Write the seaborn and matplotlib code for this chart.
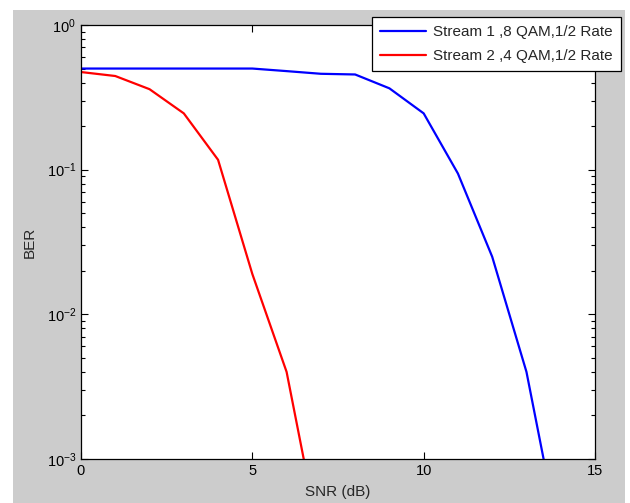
import numpy as np
import pandas as pd
import matplotlib
matplotlib.use("Agg")
import matplotlib.pyplot as plt
import seaborn as sns
from matplotlib.patches import Rectangle

# data (BER vs SNR, log scale)
snr_s1 = [0, 1, 2, 3, 4, 5, 6, 7, 8, 9, 10, 11, 12, 13, 14]
ber_s1 = [0.5, 0.5, 0.5, 0.5, 0.5, 0.5, 0.48, 0.46, 0.455, 0.365, 0.245, 0.094, 0.025, 0.004, 0.00025]
snr_s2 = [0, 1, 2, 3, 4, 5, 6, 7]
ber_s2 = [0.473, 0.444, 0.36, 0.245, 0.117, 0.019, 0.004, 0.00025]
labels = ['Stream 1 ,8 QAM,1/2 Rate', 'Stream 2 ,4 QAM,1/2 Rate']

df = pd.concat([
    pd.DataFrame({'snr': snr_s1, 'ber': ber_s1, 'stream': labels[0]}),
    pd.DataFrame({'snr': snr_s2, 'ber': ber_s2, 'stream': labels[1]}),
], ignore_index=True)

sns.set_style("ticks")
plt.rcParams['font.family'] = ['Liberation Sans', 'DejaVu Sans']
plt.rcParams['mathtext.fontset'] = 'custom'
plt.rcParams['mathtext.rm'] = 'Liberation Sans'

fig = plt.figure(figsize=(6.3, 5.03), dpi=100)
fig.patch.set_facecolor('white')
# matlab style grey figure area
fig.patches.append(Rectangle((13/630, 0), (625-13)/630, 1 - 10/503,
                             transform=fig.transFigure, facecolor='#cccccc',
                             edgecolor='none', zorder=-10))

ax = fig.add_axes([81/630, 1 - 459/503, (595-81)/630, (459-25)/503])
ax.set_facecolor('white')

sns.lineplot(data=df, x='snr', y='ber', hue='stream',
             palette={labels[0]: '#0000ff', labels[1]: '#ff0000'},
             linewidth=1.6, estimator=None, sort=False, ax=ax)

ax.set_yscale('log')
ax.set_xlim(0, 15)
ax.set_ylim(1e-3, 1)
ax.set_xticks([0, 5, 10, 15])
ax.set_xlabel('SNR (dB)', fontsize=11, labelpad=5)
ax.set_ylabel('BER', fontsize=11, labelpad=7)

for s in ax.spines.values():
    s.set_visible(True)
    s.set_color('black')
    s.set_linewidth(0.9)
ax.tick_params(which='both', direction='in', top=True, right=True,
               labelsize=10.5, colors='black', width=0.8)
ax.tick_params(which='major', length=5)
ax.tick_params(which='minor', length=3)

h, l = ax.get_legend_handles_labels()
leg = ax.legend(h, l, loc='upper right', bbox_to_anchor=(621/630, 1 - 17/503),
                bbox_transform=fig.transFigure, borderaxespad=0,
                fontsize=11, handlelength=3.0, handletextpad=0.45,
                labelspacing=0.62, borderpad=0.55, fancybox=False,
                framealpha=1, edgecolor='black')
leg.get_frame().set_linewidth(0.9)
for line in leg.get_lines():
    line.set_linewidth(1.6)

fig.savefig('out.png', dpi=100, facecolor=fig.get_facecolor())
